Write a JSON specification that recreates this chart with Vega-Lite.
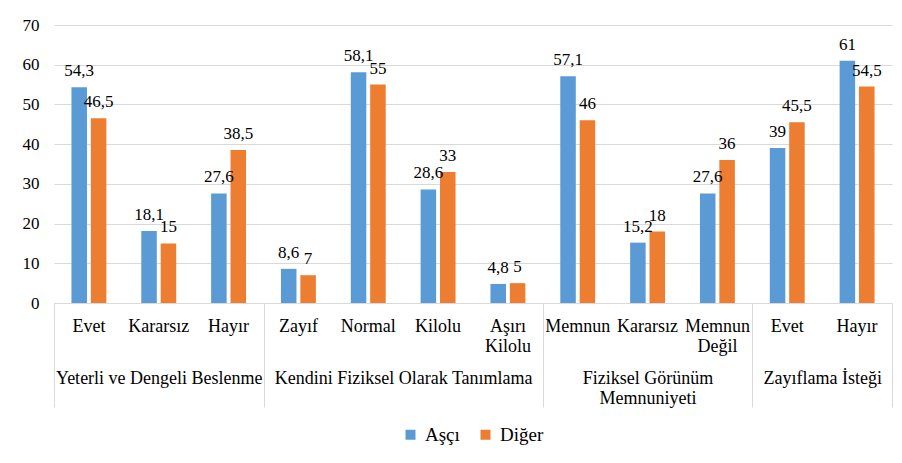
{
  "$schema": "https://vega.github.io/schema/vega-lite/v6.json",
  "width": 838,
  "height": 278,
  "autosize": {"type": "none"},
  "padding": {"left": 54, "top": 25, "right": 10, "bottom": 160},
  "background": "white",
  "config": {
    "view": {"stroke": null},
    "font": "Liberation Serif",
    "locale": {"number": {"decimal": ",", "thousands": ".", "grouping": [3], "currency": ["", ""]}}
  },
  "data": {
    "values": [
      {"cat": "Yeterli ve Dengeli Beslenme|Evet", "series": "Aşçı", "value": 54.3},
      {"cat": "Yeterli ve Dengeli Beslenme|Kararsız", "series": "Aşçı", "value": 18.1},
      {"cat": "Yeterli ve Dengeli Beslenme|Hayır", "series": "Aşçı", "value": 27.6},
      {"cat": "Kendini Fiziksel Olarak Tanımlama|Zayıf", "series": "Aşçı", "value": 8.6},
      {"cat": "Kendini Fiziksel Olarak Tanımlama|Normal", "series": "Aşçı", "value": 58.1},
      {"cat": "Kendini Fiziksel Olarak Tanımlama|Kilolu", "series": "Aşçı", "value": 28.6},
      {"cat": "Kendini Fiziksel Olarak Tanımlama|Aşırı Kilolu", "series": "Aşçı", "value": 4.8},
      {"cat": "Fiziksel Görünüm Memnuniyeti|Memnun", "series": "Aşçı", "value": 57.1},
      {"cat": "Fiziksel Görünüm Memnuniyeti|Kararsız", "series": "Aşçı", "value": 15.2},
      {"cat": "Fiziksel Görünüm Memnuniyeti|Memnun Değil", "series": "Aşçı", "value": 27.6},
      {"cat": "Zayıflama İsteği|Evet", "series": "Aşçı", "value": 39},
      {"cat": "Zayıflama İsteği|Hayır", "series": "Aşçı", "value": 61},
      {"cat": "Yeterli ve Dengeli Beslenme|Evet", "series": "Diğer", "value": 46.5},
      {"cat": "Yeterli ve Dengeli Beslenme|Kararsız", "series": "Diğer", "value": 15},
      {"cat": "Yeterli ve Dengeli Beslenme|Hayır", "series": "Diğer", "value": 38.5},
      {"cat": "Kendini Fiziksel Olarak Tanımlama|Zayıf", "series": "Diğer", "value": 7},
      {"cat": "Kendini Fiziksel Olarak Tanımlama|Normal", "series": "Diğer", "value": 55},
      {"cat": "Kendini Fiziksel Olarak Tanımlama|Kilolu", "series": "Diğer", "value": 33},
      {"cat": "Kendini Fiziksel Olarak Tanımlama|Aşırı Kilolu", "series": "Diğer", "value": 5},
      {"cat": "Fiziksel Görünüm Memnuniyeti|Memnun", "series": "Diğer", "value": 46},
      {"cat": "Fiziksel Görünüm Memnuniyeti|Kararsız", "series": "Diğer", "value": 18},
      {"cat": "Fiziksel Görünüm Memnuniyeti|Memnun Değil", "series": "Diğer", "value": 36},
      {"cat": "Zayıflama İsteği|Evet", "series": "Diğer", "value": 45.5},
      {"cat": "Zayıflama İsteği|Hayır", "series": "Diğer", "value": 54.5}
    ]
  },
  "layer": [
    {
      "encoding": {
        "x": {
          "field": "cat", "type": "nominal", "sort": null,
          "scale": {"paddingInner": 0.5, "paddingOuter": 0.25},
          "axis": {
            "title": null,
            "labelExpr": "split(split(datum.label, '|')[1], ' ')",
            "labelAngle": 0,
            "ticks": false,
            "domainColor": "#d9d9d9",
            "domainWidth": 1,
            "labelPadding": 14,
            "labelFontSize": 18,
            "labelFont": "Liberation Serif",
            "labelLineHeight": 20,
            "labelColor": "#000000",
            "labelLimit": 400,
            "labelOverlap": false
          }
        },
        "xOffset": {
          "field": "series", "type": "nominal", "sort": null,
          "scale": {"paddingInner": 0.2, "paddingOuter": 0}
        },
        "y": {
          "field": "value", "type": "quantitative",
          "scale": {"domain": [0, 70], "nice": false},
          "axis": {
            "title": null,
            "values": [0, 10, 20, 30, 40, 50, 60, 70],
            "ticks": false,
            "domain": false,
            "gridColor": "#d9d9d9",
            "gridWidth": 1,
            "labelPadding": 15,
            "labelFontSize": 17,
            "labelFont": "Liberation Serif",
            "labelColor": "#000000"
          }
        }
      },
      "layer": [
        {
          "mark": {"type": "bar"},
          "encoding": {
            "color": {
              "field": "series", "type": "nominal", "sort": null,
              "scale": {"domain": ["Aşçı", "Diğer"], "range": ["#5B9BD5", "#ED7D31"]},
              "legend": {
                "title": null,
                "orient": "none",
                "legendX": 347,
                "legendY": 400,
                "direction": "horizontal",
                "symbolType": "square",
                "symbolSize": 100,
                "symbolStrokeWidth": 0,
                "labelFontSize": 19,
                "labelFont": "Liberation Serif",
                "labelColor": "#000000",
                "labelOffset": 5,
                "columnPadding": 16
              }
            }
          }
        },
        {
          "mark": {"type": "text", "baseline": "alphabetic", "dy": -11, "fontSize": 17, "font": "Liberation Serif", "color": "#000000"},
          "encoding": {
            "text": {"field": "value", "type": "quantitative", "format": ".1~f"}
          }
        }
      ]
    },
    {
      "mark": {"type": "rule", "opacity": 0},
      "encoding": {
        "x": {
          "datum": 0, "type": "quantitative",
          "scale": {"domain": [0, 12], "nice": false, "zero": false},
          "axis": {
            "orient": "bottom",
            "title": null,
            "values": [0, 1.5, 3, 5, 7, 8.5, 10, 11, 12],
            "domain": false,
            "grid": false,
            "ticks": true,
            "tickSize": 104,
            "tickColor": "#d9d9d9",
            "tickWidth": 1,
            "tickOpacity": {"condition": {"test": "indexof([0, 3, 7, 10, 12], datum.value) >= 0", "value": 1}, "value": 0},
            "labelExpr": "datum.value == 1.5 ? 'Yeterli ve Dengeli Beslenme' : datum.value == 5 ? 'Kendini Fiziksel Olarak Tanımlama' : datum.value == 8.5 ? ['Fiziksel Görünüm', 'Memnuniyeti'] : datum.value == 11 ? 'Zayıflama İsteği' : ''",
            "labelPadding": -38,
            "labelFontSize": 18,
            "labelFont": "Liberation Serif",
            "labelColor": "#000000",
            "labelLineHeight": 20,
            "labelLimit": 400,
            "labelOverlap": false,
            "labelFlush": false,
            "labelBound": false
          }
        }
      }
    }
  ],
  "resolve": {"scale": {"x": "independent"}}
}
